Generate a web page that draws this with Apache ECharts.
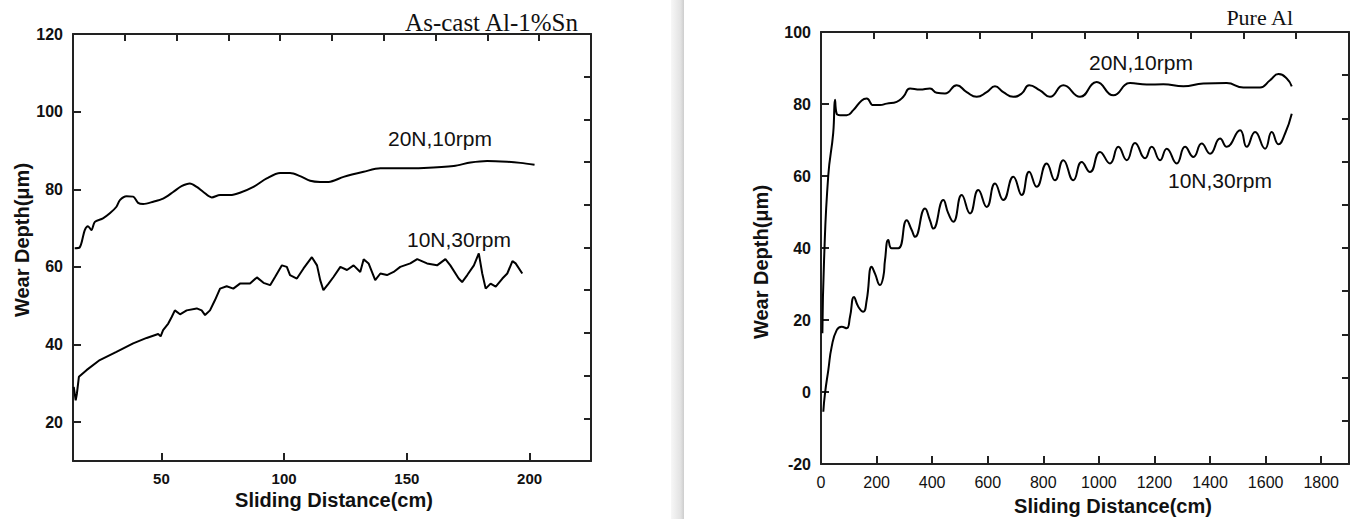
<!DOCTYPE html>
<html>
<head>
<meta charset="utf-8">
<script src="https://cdn.jsdelivr.net/npm/echarts@6.0.0/dist/echarts.min.js"></script>
<style>
  html, body { margin: 0; padding: 0; background: #fff; }
  #chart { width: 1358px; height: 519px; }
</style>
</head>
<body>
<div id="chart"></div>
<script>
// As-cast Al-1%Sn, 20N,10rpm
var castDist20 = [14.7, 16.7, 18.8, 20.1, 21.5, 22.9, 26.2, 29.0, 31.7, 33.1, 35.8, 38.5, 40.5, 42.6, 46.7, 50.7, 54.8, 58.2, 61.6, 64.4, 67.1, 70.5, 73.9, 78.0, 82.0, 87.5, 92.9, 98.4, 102.4, 106.5, 110.6, 114.7, 118.1, 124.2, 132.4, 139.2, 146.0, 156.9, 169.1, 175.9, 182.7, 190.9, 196.3, 202.0];
var castDepth20 = [64.8, 65.0, 69.5, 70.5, 69.5, 71.6, 72.5, 73.8, 75.5, 77.2, 78.2, 78.1, 76.5, 76.2, 76.8, 77.6, 79.3, 80.8, 81.5, 80.6, 79.3, 77.9, 78.5, 78.5, 79.1, 80.6, 82.8, 84.2, 84.2, 83.4, 82.2, 81.9, 81.9, 83.2, 84.5, 85.4, 85.4, 85.5, 86.0, 86.9, 87.3, 87.1, 86.8, 86.3];
// As-cast Al-1%Sn, 10N,30rpm
var castDist10 = [14.3, 15.1, 15.6, 16.4, 19.5, 24.9, 31.7, 38.5, 44.0, 48.7, 49.7, 50.7, 52.8, 54.2, 55.5, 57.6, 60.3, 64.4, 66.4, 67.8, 69.8, 71.8, 73.9, 76.6, 79.3, 82.0, 86.1, 88.9, 91.6, 94.3, 96.3, 99.1, 101.1, 102.4, 105.2, 107.9, 111.3, 113.4, 114.7, 116.0, 118.1, 120.1, 122.9, 125.6, 128.3, 131.0, 132.4, 134.4, 137.1, 139.2, 141.9, 144.6, 147.3, 151.4, 154.2, 158.2, 162.3, 165.7, 167.7, 171.1, 172.5, 174.6, 177.3, 179.3, 180.7, 182.1, 184.1, 186.2, 188.9, 190.9, 193.0, 194.3, 197.0];
var castDepth10 = [29.1, 25.6, 27.4, 31.7, 33.4, 36.0, 38.1, 40.3, 41.7, 42.7, 42.1, 43.7, 45.4, 47.1, 48.8, 47.8, 48.8, 49.3, 48.8, 47.6, 48.8, 51.4, 54.4, 55.0, 54.4, 55.7, 55.7, 57.3, 55.9, 55.3, 57.4, 60.4, 60.0, 57.9, 57.0, 59.6, 62.5, 60.4, 56.6, 54.0, 55.7, 57.4, 60.0, 59.2, 60.4, 58.7, 62.0, 60.9, 56.6, 58.3, 57.9, 58.7, 60.0, 60.9, 62.0, 60.9, 60.4, 62.0, 60.4, 57.0, 56.1, 57.9, 60.4, 63.5, 58.3, 54.4, 55.7, 54.9, 57.0, 58.3, 61.5, 60.9, 58.3];
// Pure Al, 20N,10rpm
var pureDist20 = [5, 11, 26, 44, 50.4, 56.4, 68.4, 92.5, 116.2, 146.5, 164.4, 188.2, 212.3, 236.4, 272.4, 296.2, 320.3, 356.2, 392.2, 416.3, 446.2, 488.3, 524.3, 560.3, 596.3, 626.1, 656, 692, 722.2, 749, 788, 824, 872, 932, 992, 1052, 1112, 1172, 1232, 1304, 1376, 1460, 1520, 1580, 1616, 1646, 1676, 1694];
var pureDepth20 = [16.3, 36.6, 60, 72, 81.2, 77.3, 76.9, 76.9, 78.3, 81.0, 81.5, 79.7, 79.7, 80.1, 80.6, 82.0, 84.3, 84.0, 84.3, 83.1, 82.9, 85.2, 83.3, 82.0, 83.3, 84.9, 83.3, 82.0, 82.9, 85.2, 83.8, 82.0, 85.2, 82.0, 86.1, 82.4, 85.8, 85.4, 85.5, 84.9, 85.7, 85.8, 84.6, 84.6, 86.6, 88.3, 87.1, 84.9];
// Pure Al, 10N,30rpm
var pureDist10 = [8.3, 14.4, 26.3, 38.5, 56.5, 74.5, 92.5, 104.4, 118.7, 134.2, 152.2, 164.4, 182.4, 194.3, 212.3, 224.2, 230.3, 242.2, 254.4, 278.2, 308.4, 326.4, 338.3, 374.3, 392.2, 404.1, 440.1, 458.1, 476.1, 506.3, 536.2, 566.0, 596.3, 626.1, 656, 692, 722.2, 749, 776, 812, 842, 872, 908, 938, 968, 1004, 1040, 1070, 1100, 1130, 1166, 1190, 1220, 1244, 1280, 1310, 1340, 1370, 1400, 1436, 1460, 1508, 1532, 1562, 1598, 1622, 1646, 1670, 1694];
var pureDepth10 = [-5.5, -0.4, 6.1, 12.6, 17.2, 18.1, 17.7, 20.9, 26.4, 23.7, 22.3, 25.5, 34.8, 32.9, 29.7, 32.0, 36.6, 42.2, 39.9, 39.9, 47.7, 45.0, 43.1, 51.0, 47.7, 45.4, 53.3, 49.6, 47.3, 54.7, 49.6, 56.1, 51.4, 57.9, 53.3, 59.8, 54.7, 61.2, 57.0, 63.5, 58.8, 64.4, 58.8, 63.9, 61.1, 66.7, 63.5, 68.1, 64.4, 69.2, 64.9, 68.1, 64.4, 67.6, 63.5, 68.1, 65.3, 69.0, 66.2, 70.4, 68.1, 72.7, 68.1, 72.2, 67.6, 72.2, 68.8, 71.8, 77.3];

// tick labels
var castDepthTicks = [20, 40, 60, 80, 100, 120];
var castDistTicks = [50, 100, 150, 200];
var pureDepthTicks = [-20, 0, 20, 40, 60, 80, 100];
var pureDistTicks = [0, 200, 400, 600, 800, 1000, 1200, 1400, 1600, 1800];

function pairs(xs, ys) {
    return xs.map(function (x, i) { return [x, ys[i]]; });
}

var axisColor = '#222';
var sans = '"Liberation Sans", Arial, sans-serif';
var serif = '"Liberation Serif", "Times New Roman", serif';

// labelled axis (bottom / left)
function mainAxis(grid, pos, min, max, ticks, fontSize, fontWeight) {
    return {
        type: 'value', gridIndex: grid, position: pos, min: min, max: max,
        axisLine: { show: true, onZero: false, lineStyle: { color: axisColor, width: 2 } },
        axisTick: { show: true, inside: true, length: 8, customValues: ticks, lineStyle: { color: axisColor, width: 2 } },
        axisLabel: {
            show: true, customValues: ticks, margin: 10, color: '#111',
            fontSize: fontSize, fontWeight: fontWeight, fontFamily: sans,
            formatter: function (v) { return String(v); }
        },
        splitLine: { show: false }
    };
}

// top / right frame axis, 10 even divisions, no labels
function frameAxis(grid, pos) {
    return {
        type: 'value', gridIndex: grid, position: pos, min: 0, max: 10, interval: 1,
        axisLine: { show: true, onZero: false, lineStyle: { color: axisColor, width: 2 } },
        axisTick: { show: true, inside: true, length: 7, lineStyle: { color: axisColor, width: 2 } },
        axisLabel: { show: false },
        splitLine: { show: false }
    };
}

function curve(data, xi, yi, smooth) {
    return {
        type: 'line', data: data, xAxisIndex: xi, yAxisIndex: yi,
        showSymbol: false, smooth: smooth, silent: true,
        lineStyle: { color: '#000', width: 2 }
    };
}

function text(str, x, y, font, align, rot) {
    return {
        type: 'text', x: x, y: y, rotation: rot || 0, silent: true,
        style: {
            text: str, font: font, fill: '#111',
            textAlign: align, align: align,
            textVerticalAlign: 'middle', verticalAlign: 'middle'
        }
    };
}

var option = {
    backgroundColor: '#fff',
    animation: false,
    grid: [
        { left: 73, top: 34, width: 518, height: 427 },
        { left: 821, top: 32, width: 528, height: 432 }
    ],
    xAxis: [
        mainAxis(0, 'bottom', 14, 225, castDistTicks, 15, 'bold'),
        frameAxis(0, 'top'),
        mainAxis(1, 'bottom', 0, 1900, pureDistTicks, 16, 'normal'),
        frameAxis(1, 'top')
    ],
    yAxis: [
        mainAxis(0, 'left', 10, 120, castDepthTicks, 16, 'bold'),
        frameAxis(0, 'right'),
        mainAxis(1, 'left', -20, 100, pureDepthTicks, 16, 'bold'),
        frameAxis(1, 'right')
    ],
    series: [
        curve(pairs(castDist20, castDepth20), 0, 0, 0.3),
        curve(pairs(castDist10, castDepth10), 0, 0, false),
        curve(pairs(pureDist20, pureDepth20), 2, 2, 0.5),
        curve(pairs(pureDist10, pureDepth10), 2, 2, 0.5)
    ],
    graphic: [
        {
            type: 'rect', silent: true, z: -10,
            shape: { x: 671, y: 0, width: 13, height: 519 },
            style: {
                fill: new echarts.graphic.LinearGradient(0, 0, 1, 0, [
                    { offset: 0, color: '#f7f7f7' },
                    { offset: 0.75, color: '#e2e2e2' },
                    { offset: 1, color: '#cdcdcd' }
                ])
            }
        },
        text('As-cast Al-1%Sn', 578, 22, '25px ' + serif, 'right'),
        text('Pure Al', 1293, 17, '22px ' + serif, 'right'),
        text('20N,10rpm', 388, 138, '21px ' + sans, 'left'),
        text('10N,30rpm', 407, 239, '21px ' + sans, 'left'),
        text('20N,10rpm', 1089, 62, '21px ' + sans, 'left'),
        text('10N,30rpm', 1168, 180, '21px ' + sans, 'left'),
        text('Wear Depth(μm)', 22, 240, 'bold 20px ' + sans, 'center', Math.PI / 2),
        text('Wear Depth(μm)', 761, 262, 'bold 20px ' + sans, 'center', Math.PI / 2),
        text('Sliding Distance(cm)', 334, 500, 'bold 20px ' + sans, 'center'),
        text('Sliding Distance(cm)', 1113, 506, 'bold 20px ' + sans, 'center')
    ]
};

var chart = echarts.init(document.getElementById('chart'), null, { renderer: 'svg' });
chart.setOption(option);
</script>
</body>
</html>
